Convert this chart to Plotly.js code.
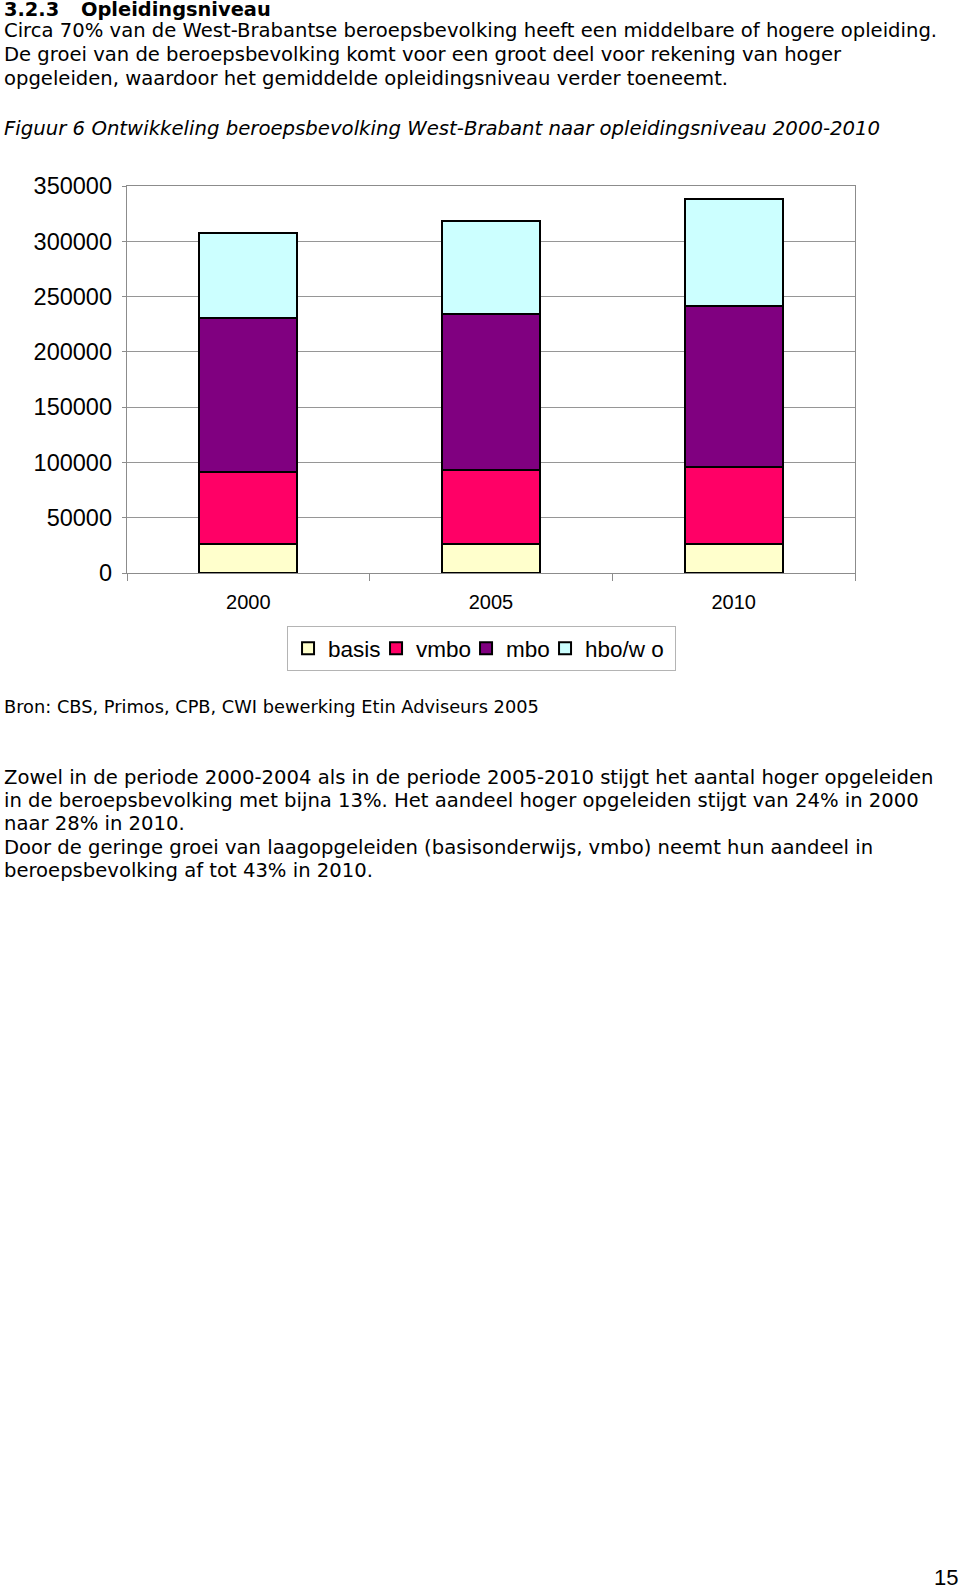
<!DOCTYPE html>
<html>
<head>
<meta charset="utf-8">
<script src="https://cdn.plot.ly/plotly-3.0.1.min.js"></script>
<style>
  html, body { margin: 0; padding: 0; background: #ffffff; }
  body { width: 960px; height: 1590px; position: relative; overflow: hidden; }
  .ln { position: absolute; left: 4px; white-space: nowrap; font-family: "DejaVu Sans", Verdana, sans-serif; color: #000; line-height: 24px; height: 24px; font-size: 19.6px; }
  #chart { position: absolute; left: 0; top: 150px; width: 960px; height: 540px; }
</style>
</head>
<body>
<div class="ln" style="top:0px; line-height:20px; height:20px; font-weight:bold; font-size:19.4px;"><span>3.2.3</span><span style="position:absolute; left:77px;">Opleidingsniveau</span></div>
<div class="ln" style="top:19px;">Circa 70% van de West-Brabantse beroepsbevolking heeft een middelbare of hogere opleiding.</div>
<div class="ln" style="top:43px;">De groei van de beroepsbevolking komt voor een groot deel voor rekening van hoger</div>
<div class="ln" style="top:67px;">opgeleiden, waardoor het gemiddelde opleidingsniveau verder toeneemt.</div>
<div class="ln" style="top:117px; font-style:italic; font-size:19.7px;">Figuur 6 Ontwikkeling beroepsbevolking West-Brabant naar opleidingsniveau 2000-2010</div>
<div id="chart"></div>
<div class="ln" style="top:695px; font-size:17.8px;">Bron: CBS, Primos, CPB, CWI bewerking Etin Adviseurs 2005</div>
<div class="ln" style="top:766px;">Zowel in de periode 2000-2004 als in de periode 2005-2010 stijgt het aantal hoger opgeleiden</div>
<div class="ln" style="top:789px;">in de beroepsbevolking met bijna 13%. Het aandeel hoger opgeleiden stijgt van 24% in 2000</div>
<div class="ln" style="top:812px;">naar 28% in 2010.</div>
<div class="ln" style="top:836px;">Door de geringe groei van laagopgeleiden (basisonderwijs, vmbo) neemt hun aandeel in</div>
<div class="ln" style="top:859px;">beroepsbevolking af tot 43% in 2010.</div>
<div class="ln" style="top:1566px; left:934px; font-family:'Liberation Sans', Arial, sans-serif; font-size:22px;">15</div>

<script>
// ---- data ----
const categories = ['2000', '2005', '2010'];
const basis = [26500, 26500, 26500];
const vmbo = [65300, 67100, 69300];
const mbo = [138700, 140700, 146000];
const hboWo = [76800, 84400, 96200];
const seriesNames = ['basis', 'vmbo', 'mbo', 'hbo/w o'];
const seriesColors = ['#FFFFCC', '#FF0066', '#800080', '#CCFFFF'];
const yTickVals = [0, 50000, 100000, 150000, 200000, 250000, 300000, 350000];
const yTickText = ['0', '50000', '100000', '150000', '200000', '250000', '300000', '350000'];

const legendFontSize = 22.5;
const fontFamily = 'Liberation Sans, Arial, sans-serif';

// measure legend text widths so the entries sit close together like the original
const cv = document.createElement('canvas').getContext('2d');
cv.font = legendFontSize + 'px "Liberation Sans"';
function textW(s) { return cv.measureText(s).width; }

const seriesValues = [basis, vmbo, mbo, hboWo];
const traces = seriesValues.map((vals, i) => ({
  type: 'bar',
  x: categories,
  y: vals,
  name: seriesNames[i],
  legendwidth: Math.max(1, Math.round(textW(seriesNames[i]) + (i === seriesValues.length - 1 ? 6 : -10))),
  marker: { color: seriesColors[i], line: { color: '#000000', width: 2 } },
  hoverinfo: 'x+y+name'
}));

const layout = {
  width: 960,
  height: 540,
  margin: { l: 127, r: 105, t: 36, b: 117 },
  paper_bgcolor: 'rgba(0,0,0,0)',
  plot_bgcolor: '#ffffff',
  barmode: 'stack',
  bargap: 0.595,
  showlegend: true,
  font: { family: fontFamily, color: '#000000' },
  xaxis: {
    type: 'category',
    showline: true,
    linecolor: '#8c8c8c',
    linewidth: 1.3,
    mirror: true,
    ticks: 'outside',
    tickson: 'boundaries',
    ticklen: 7,
    tickcolor: '#8c8c8c',
    tickfont: { size: 20 },
    ticklabelstandoff: 11,
    showgrid: false,
    fixedrange: true
  },
  yaxis: {
    range: [0, 350000],
    tickvals: yTickVals,
    ticktext: yTickText,
    showline: true,
    linecolor: '#8c8c8c',
    linewidth: 1.3,
    mirror: true,
    ticks: 'outside',
    ticklen: 4,
    tickcolor: '#8c8c8c',
    tickfont: { size: 23.5 },
    ticklabelstandoff: 5,
    showgrid: true,
    gridcolor: '#969696',
    gridwidth: 1,
    zeroline: false,
    fixedrange: true
  },
  legend: {
    orientation: 'h',
    x: 0.487,
    xanchor: 'center',
    y: -0.137,
    yanchor: 'top',
    bordercolor: '#b4b4b4',
    borderwidth: 1,
    bgcolor: '#ffffff',
    traceorder: 'normal',
    font: { size: legendFontSize },
    itemwidth: 30
  }
};

Plotly.newPlot('chart', traces, layout, { displayModeBar: false, staticPlot: true });
</script>
</body>
</html>
